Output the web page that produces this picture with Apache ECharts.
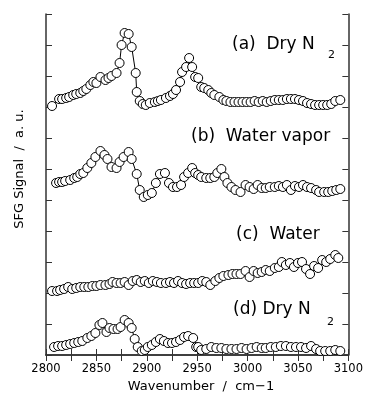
<!DOCTYPE html>
<html>
<head>
<meta charset="utf-8">
<script src="https://cdn.jsdelivr.net/npm/echarts@6/dist/echarts.min.js"></script>
<style>
  html, body { margin: 0; padding: 0; background: #fff; }
  #chart { width: 366px; height: 395px; }
</style>
</head>
<body>
<div id="chart"></div>
<script>
// x axis
const xTicks = [2800, 2850, 2900, 2950, 3000, 3050, 3100];

// (a) Dry N2 (offset spectra, a.u.)
const wnA = [2806, 2813, 2816, 2820, 2823, 2827, 2830, 2834, 2837, 2840, 2844, 2847, 2850, 2854, 2859, 2862, 2865, 2870,
  2873, 2875, 2878, 2882, 2885, 2889, 2890, 2893, 2896, 2899, 2903, 2908, 2911, 2914, 2919, 2923, 2926, 2929, 2933, 2935,
  2939, 2942, 2945, 2948, 2951, 2954, 2957, 2961, 2964, 2967, 2972, 2976, 2979, 2983, 2987, 2991, 2995, 2999, 3003, 3007,
  3011, 3015, 3019, 3023, 3027, 3031, 3035, 3039, 3043, 3047, 3051, 3055, 3059, 3063, 3067, 3071, 3075, 3079, 3083, 3087, 3092];
const sigA = [249, 256, 256, 257, 258, 260, 261, 262, 264, 266, 270, 273, 272, 278, 275, 277, 279, 282,
  292, 310, 322, 321, 308, 282, 263, 254, 251, 250, 252, 253, 254, 255, 257, 259, 261, 265, 273, 283,
  288, 297, 288, 278, 277, 268, 267, 265, 262, 260, 258, 255, 254, 253, 253, 253, 253, 253, 253, 254,
  253, 254, 253, 254, 255, 255, 255, 256, 256, 256, 255, 254, 252, 251, 250, 250, 250, 250, 251, 254, 255];

// (b) Water vapor
const wnB = [2810, 2813, 2816, 2819, 2824, 2828, 2831, 2834, 2837, 2841, 2845, 2849, 2854, 2858, 2861, 2865, 2870, 2873,
  2877, 2882, 2885, 2890, 2893, 2897, 2901, 2905, 2909, 2913, 2918, 2922, 2926, 2930, 2934, 2937, 2941, 2945, 2948, 2951,
  2954, 2959, 2963, 2967, 2970, 2974, 2977, 2980, 2984, 2988, 2993, 2998, 3002, 3006, 3010, 3014, 3018, 3022, 3027, 3031,
  3035, 3039, 3043, 3047, 3051, 3055, 3059, 3063, 3068, 3071, 3076, 3080, 3084, 3088, 3092];
const sigB = [172, 173, 173, 174, 175, 177, 178, 181, 182, 187, 192, 198, 204, 200, 196, 188, 187, 193,
  198, 203, 196, 181, 165, 158, 160, 162, 172, 181, 182, 172, 168, 168, 170, 178, 182, 187, 182, 180,
  178, 177, 177, 178, 182, 186, 178, 172, 168, 165, 163, 170, 168, 166, 170, 167, 167, 168, 168, 169,
  168, 170, 165, 169, 168, 170, 168, 167, 165, 163, 163, 163, 164, 165, 166];

// (c) Water
const wnC = [2806, 2811, 2814, 2818, 2822, 2826, 2830, 2834, 2838, 2842, 2846, 2850, 2854, 2859, 2863, 2866, 2870, 2874,
  2878, 2882, 2886, 2890, 2894, 2898, 2902, 2906, 2910, 2914, 2919, 2923, 2927, 2931, 2935, 2939, 2943, 2947, 2951, 2955,
  2959, 2963, 2968, 2972, 2976, 2981, 2985, 2989, 2993, 2998, 3002, 3006, 3010, 3014, 3018, 3022, 3027, 3031, 3034, 3038,
  3042, 3046, 3050, 3054, 3058, 3062, 3066, 3070, 3074, 3078, 3082, 3087, 3090];
const sigC = [64, 64, 65, 66, 68, 66, 67, 68, 68, 68, 69, 69, 70, 70, 71, 73, 72, 72,
  73, 70, 74, 75, 73, 74, 72, 74, 73, 72, 72, 73, 72, 74, 72, 71, 72, 72, 72, 74,
  73, 70, 74, 77, 79, 80, 81, 81, 81, 84, 78, 84, 82, 83, 85, 84, 87, 88, 93, 90,
  92, 88, 92, 93, 86, 81, 89, 87, 95, 93, 96, 100, 97];

// (d) Dry N2
const wnD = [2808, 2812, 2816, 2820, 2824, 2828, 2832, 2836, 2841, 2845, 2849, 2853, 2856, 2860, 2863, 2867, 2871, 2874,
  2878, 2882, 2885, 2888, 2891, 2895, 2898, 2901, 2905, 2909, 2913, 2917, 2921, 2925, 2929, 2933, 2937, 2941, 2946, 2949,
  2951, 2954, 2959, 2964, 2969, 2974, 2979, 2984, 2989, 2994, 2999, 3004, 3009, 3014, 3018, 3023, 3028, 3033, 3038, 3043,
  3048, 3053, 3058, 3063, 3068, 3072, 3077, 3082, 3087, 3092];
const sigD = [8, 9, 9, 10, 11, 12, 13, 14, 17, 19, 22, 30, 32, 23, 27, 26, 26, 28,
  35, 32, 27, 16, 8, 4, 5, 8, 10, 13, 16, 14, 12, 12, 13, 15, 18, 19, 17, 8,
  8, 5, 6, 8, 7, 7, 6, 6, 6, 7, 6, 7, 8, 7, 7, 8, 8, 9, 9, 8,
  8, 8, 7, 9, 6, 4, 4, 4, 5, 4];

const FONT = '"DejaVu Sans", sans-serif';
const AXIS_COLOR = "#333";

function spectrum(wn, sig) {
  return {
    type: "line",
    data: wn.map((w, i) => [w, sig[i]]),
    showAllSymbol: true,
    symbol: "circle",
    symbolSize: 9,
    itemStyle: { color: "#fff", borderColor: "#000", borderWidth: 1 },
    lineStyle: { color: "#000", width: 1 },
    emphasis: { disabled: true },
  };
}

function label(text, x, y, size) {
  return {
    type: "text",
    x: x,
    y: y,
    style: { text: text, font: `${size}px ${FONT}`, fill: "#000", align: "left", verticalAlign: "middle" },
  };
}

const yTick = {
  type: "value",
  min: 0,
  max: 341,
  interval: 31,
  axisLine: { show: true, lineStyle: { color: AXIS_COLOR, width: 1.5 } },
  axisTick: { show: true, inside: true, length: 6, lineStyle: { color: AXIS_COLOR } },
  axisLabel: { show: false },
  splitLine: { show: false },
};

const chart = echarts.init(document.getElementById("chart"));
chart.setOption({
  animation: false,
  backgroundColor: "#fff",
  grid: { left: 46, right: 15, top: 14, bottom: 40 },
  xAxis: [
    {
      type: "value",
      min: 2800,
      max: 3100,
      interval: 25,
      axisLine: { lineStyle: { color: AXIS_COLOR, width: 1.5 } },
      axisTick: { inside: true, length: 6, lineStyle: { color: AXIS_COLOR } },
      axisLabel: {
        color: "#000",
        fontFamily: FONT,
        fontSize: 11.5,
        margin: 8,
        formatter: (v) => (xTicks.includes(v) ? String(v) : ""),
      },
      splitLine: { show: false },
    },
    {
      type: "value",
      position: "top",
      min: 2800,
      max: 3100,
      interval: 25,
      axisLine: { lineStyle: { color: AXIS_COLOR, width: 1.5 } },
      axisTick: { inside: true, length: 6, lineStyle: { color: AXIS_COLOR } },
      axisLabel: { show: false },
      splitLine: { show: false },
    },
  ],
  yAxis: [
    { ...yTick, position: "left" },
    { ...yTick, position: "right" },
  ],
  series: [spectrum(wnA, sigA), spectrum(wnB, sigB), spectrum(wnC, sigC), spectrum(wnD, sigD)],
  graphic: [
    label("(a)  Dry N", 232, 45, 17),
    label("2", 328, 55, 11),
    label("(b)  Water vapor", 191, 137, 17),
    label("(c)  Water", 236, 235, 17),
    label("(d) Dry N", 233, 310, 17),
    label("2", 327, 322, 11),
    {
      type: "text",
      x: 201,
      y: 387,
      style: { text: "Wavenumber  /  cm\u22121", font: `13px ${FONT}`, fill: "#000", align: "center", verticalAlign: "middle" },
    },
    {
      type: "text",
      x: 20,
      y: 169,
      rotation: Math.PI / 2,
      style: { text: "SFG Signal  /  a. u.", font: `13px ${FONT}`, fill: "#000", align: "center", verticalAlign: "middle" },
    },
  ],
});
</script>
</body>
</html>
